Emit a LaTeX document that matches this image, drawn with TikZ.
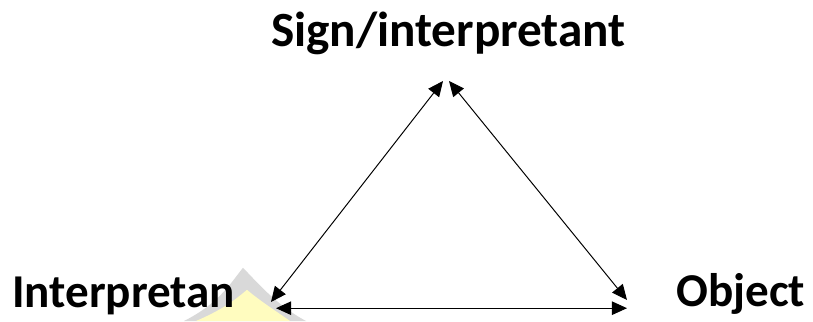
\documentclass[tikz,border=0pt]{standalone}
\usepackage{fontspec}
\setmainfont{Carlito}
\usetikzlibrary{arrows.meta}

\begin{document}
\begin{tikzpicture}[
  every node/.style={font=\bfseries, inner sep=0pt},
  toplabel/.style={font=\fontsize{35}{40}\selectfont\bfseries, anchor=base},
  cornerlabel/.style={font=\fontsize{33.5}{38}\selectfont\bfseries, anchor=base west},
  link/.style={line width=0.7pt, {Triangle[length=3.8mm,width=3.4mm]}-{Triangle[length=3.8mm,width=3.4mm]}},
]
\useasboundingbox (0,0) rectangle (20.325,8.025);

% Faint watermark behind the left label
\fill[gray!30] (4.6,0) .. controls (5.5,0.45) and (5.8,1.0) .. (6.075,1.33)
  .. controls (6.4,1.0) and (6.9,0.4) .. (7.65,0) -- cycle;
\fill[yellow!25] (4.9,0) .. controls (5.6,0.3) and (5.9,0.55) .. (6.175,0.78)
  .. controls (6.5,0.5) and (6.9,0.25) .. (7.25,0) -- cycle;

% Labels
\node[toplabel] (sign) at (11.21,6.85) {Sign/interpretant};
\node[cornerlabel] (interp) at (0.3,0.34) {Interpretan};
\node[cornerlabel] (object) at (16.9,0.35) {Object};

% Arrow ends
\coordinate (topL) at (11.075,6.0);
\coordinate (topR) at (11.225,6.0);
\coordinate (leftD) at (6.775,0.475);
\coordinate (leftB) at (6.9,0.32);
\coordinate (rightB) at (15.675,0.32);
\coordinate (rightD) at (15.675,0.525);

% Triangle of double arrows
\draw[link] (topL) -- (leftD);
\draw[link] (topR) -- (rightD);
\draw[link] (leftB) -- (rightB);

\end{tikzpicture}
\end{document}
